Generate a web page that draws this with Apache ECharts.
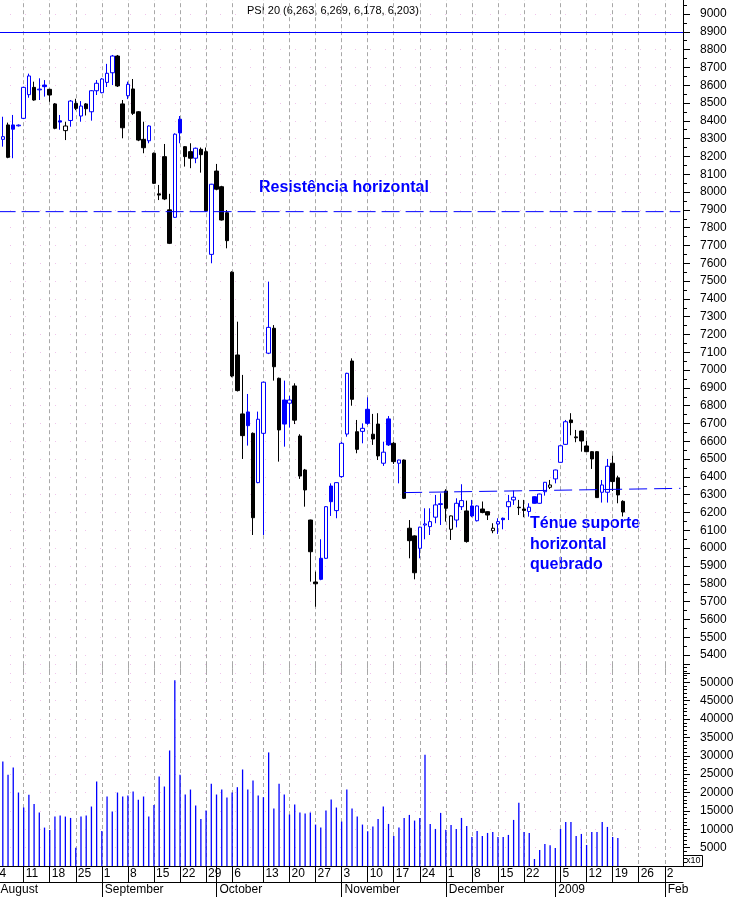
<!DOCTYPE html>
<html><head><meta charset="utf-8">
<script src="https://cdn.jsdelivr.net/npm/echarts@6.0.0/dist/echarts.min.js"></script>
<style>html,body{margin:0;padding:0;background:#fff}#c{width:733px;height:897px}</style>
</head><body><div id="c"></div>
<script>
// ---------- DATA ----------
const dates = [
'2008-08-04','2008-08-05','2008-08-06','2008-08-07','2008-08-08','2008-08-11','2008-08-12','2008-08-13','2008-08-14','2008-08-15',
'2008-08-18','2008-08-19','2008-08-20','2008-08-21','2008-08-22','2008-08-25','2008-08-26','2008-08-27','2008-08-28','2008-08-29',
'2008-09-01','2008-09-02','2008-09-03','2008-09-04','2008-09-05','2008-09-08','2008-09-09','2008-09-10','2008-09-11','2008-09-12',
'2008-09-15','2008-09-16','2008-09-17','2008-09-18','2008-09-19','2008-09-22','2008-09-23','2008-09-24','2008-09-25','2008-09-26',
'2008-09-29','2008-09-30','2008-10-01','2008-10-02','2008-10-03','2008-10-06','2008-10-07','2008-10-08','2008-10-09','2008-10-10',
'2008-10-11','2008-10-13','2008-10-14','2008-10-15','2008-10-16','2008-10-17','2008-10-20','2008-10-21','2008-10-22','2008-10-23',
'2008-10-24','2008-10-27','2008-10-28','2008-10-29','2008-10-30','2008-10-31','2008-11-03','2008-11-04','2008-11-05','2008-11-06',
'2008-11-07','2008-11-10','2008-11-11','2008-11-12','2008-11-13','2008-11-14','2008-11-17','2008-11-18','2008-11-19','2008-11-20',
'2008-11-21','2008-11-24','2008-11-25','2008-11-26','2008-11-27','2008-11-28','2008-12-01','2008-12-02','2008-12-03','2008-12-04',
'2008-12-05','2008-12-08','2008-12-09','2008-12-10','2008-12-11','2008-12-12','2008-12-15','2008-12-16','2008-12-17','2008-12-18',
'2008-12-19','2008-12-22','2008-12-23','2008-12-24','2008-12-29','2008-12-30','2008-12-31','2009-01-02','2009-01-05','2009-01-06',
'2009-01-07','2009-01-08','2009-01-09','2009-01-12','2009-01-13','2009-01-14','2009-01-15','2009-01-16','2009-01-19','2009-01-20',
'2009-01-21','2009-01-22','2009-01-23','2009-01-26','2009-01-27','2009-01-28','2009-01-29','2009-01-30','2009-02-02','2009-02-03',
'2009-02-04','2009-02-05'];

const open = [null,8296,8377,8377,8372,8414,8547,8588,8574,8601,
8577,8495,8400,8345,8402,8498,8427,8495,8451,8569,
8558,8616,8670,8764,8495,8541,8579,8451,8296,8288,
8218,7990,8199,7900,7858,8409,8255,8227,8190,8240,
8227,7650,8118,8030,7884,7550,7085,6754,6765,6645,
6368,6645,7095,7235,6954,6832,6814,6911,6630,6439,
6158,5810,5943,5943,6349,6211,6402,6641,7051,6654,
6656,6780,6640,6697,6477,6726,6589,6477,6495,6112,
6069,5999,6130,6121,6174,6245,6321,6106,6158,6233,
6209,6237,6154,6220,6205,6098,6136,6168,6233,6271,
6230,6220,6206,6289,6252,6317,6342,6389,6482,6583,
6720,6625,6658,6574,6542,6542,6314,6314,6477,6395,6263];

const high = [null,8423,8390,8433,8380,8592,8665,8620,8639,8629,
8580,8500,8433,8395,8517,8524,8511,8500,8572,8629,
8640,8720,8770,8770,8517,8620,8635,8455,8395,8375,
8222,8040,8270,7990,8330,8427,8258,8274,8250,8250,
8250,8046,8158,8035,7899,7555,7272,6973,6866,6650,
6767,6935,7497,7253,6958,6941,6855,6926,6640,6445,
6160,5868,6050,6236,6364,6370,6598,6985,7066,6720,
6701,6847,6754,6758,6598,6742,6598,6497,6498,6158,
6072,6120,6224,6224,6299,6308,6331,6183,6280,6359,
6267,6271,6240,6262,6207,6140,6168,6172,6299,6323,
6271,6271,6252,6291,6306,6372,6383,6441,6577,6720,
6758,6664,6660,6602,6545,6545,6383,6501,6520,6407,6269];

const low = [null,8255,8190,8190,8368,8410,8530,8513,8517,8536,
8507,8353,8350,8292,8367,8460,8395,8430,8401,8545,
8555,8590,8601,8590,8302,8522,8433,8286,8218,8274,
8045,7955,7955,7708,7855,8274,8143,8134,8162,8109,
7890,7600,8010,7840,7684,6960,6880,6501,6576,6074,
6365,6074,7090,6941,6486,6570,6677,6697,6389,6233,
5812,5671,5820,5940,6181,6168,6395,6626,6800,6533,
6589,6692,6580,6495,6462,6574,6473,6364,6276,5943,
5825,5943,6050,6074,6140,6130,6149,6046,6117,6214,
6031,6174,6150,6196,6158,6084,6080,6106,6158,6243,
6186,6174,6177,6250,6250,6295,6332,6364,6480,6580,
6634,6595,6542,6540,6445,6282,6256,6256,6321,6252,6178];

const close = [null,8311,8195,8353,8376,8588,8652,8517,8578,8592,
8545,8358,8393,8371,8511,8470,8483,8468,8569,8611,
8635,8667,8764,8596,8361,8605,8442,8292,8249,8371,
8049,7983,7961,7712,8325,8332,8199,8190,8246,8210,
7895,8044,8016,7843,7727,6967,6885,6632,6688,6171,
6724,6932,7240,7019,6664,6697,6832,6719,6405,6327,
5980,5800,5825,6233,6261,6368,6589,6982,6836,6555,
6673,6701,6613,6518,6539,6580,6486,6495,6280,6042,
5862,6118,6136,6149,6243,6250,6224,6181,6252,6267,
6037,6181,6237,6200,6186,6112,6149,6160,6261,6286,
6227,6212,6230,6252,6304,6370,6355,6439,6575,6710,
6705,6620,6602,6542,6501,6284,6355,6460,6374,6299,6203];

const volume = [null,28460,24830,26830,20010,15920,19370,16910,14550,10460,
9820,13460,13730,13460,13090,5000,13460,13730,16190,23010,
9550,18920,14820,20010,18920,19190,20280,18010,18920,13460,
16640,24370,21640,31460,50560,24830,19460,20820,16460,12820,
15100,22370,19460,20820,18640,20010,21460,26280,20820,23280,
19190,18730,30920,15640,22370,19460,14010,16730,14550,14280,
14550,11280,10460,15100,18100,15920,12100,20820,15640,13460,
11280,9460,10730,12820,16190,11460,8180,10460,13090,13910,
12370,13090,30280,11460,10090,14460,9820,11190,10090,13090,
10910,7910,9550,8180,9000,9280,7910,7910,8460,12550,
17190,9280,9000,1910,4360,6000,5640,4910,10090,12000,
12000,8180,8730,5730,9280,9280,12000,10640,7910,7640];

const weekTicks = ['2008-08-04','2008-08-11','2008-08-18','2008-08-25','2008-09-01','2008-09-08','2008-09-15',
'2008-09-22','2008-09-29','2008-10-06','2008-10-13','2008-10-20','2008-10-27','2008-11-03','2008-11-10',
'2008-11-17','2008-11-24','2008-12-01','2008-12-08','2008-12-15','2008-12-22','2009-01-05','2009-01-12',
'2009-01-19','2009-01-26','2009-02-02'];
const monthStarts = ['2008-08-04','2008-09-01','2008-10-01','2008-11-03','2008-12-01','2009-01-02','2009-02-02'];
const monthNames = ['August','September','October','November','December','2009','Feb'];

const resistanceTop = 8900;
const resistanceLevel = 7890;
const supportStart = ['2008-11-19', 6312];
const supportEnd = ['2009-02-05', 6336];

// ---------- CHART ----------
const BLUE = '#0000ff', BLACK = '#000000';
const FONT = '"Liberation Sans", Arial, sans-serif';
const weekSet = new Set(weekTicks.map(d => dates.indexOf(d)));
const monthMap = {};
monthStarts.forEach((d, k) => { monthMap[dates.indexOf(d)] = monthNames[k]; });
const isWeek = i => weekSet.has(i);
const isMonth = i => monthMap[i] !== undefined;

const candleData = close.map((c, i) => {
  if (c == null) return '-';
  const prev = (i > 0 && close[i-1] != null) ? close[i-1] : open[i];
  const col = c >= prev ? BLUE : BLACK;
  const fill = c > open[i] ? '#ffffff' : col;
  return { value: [open[i], c, low[i], high[i]],
    itemStyle: { color: fill, color0: fill, borderColor: col, borderColor0: col, borderWidth: 1 } };
});
const last = close.length - 1;
const fmt = v => String(v).replace(/(\d)(\d{3})$/, '$1,$2');
const header = 'PSI 20 (' + [open[last], high[last], low[last], close[last]].map(fmt).join(', ') + ')';

const weekSplit = { show: true, interval: (i) => isWeek(i), alignWithLabel: true,
  lineStyle: { color: '#a8a8a8', type: [4, 3], width: 1 } };
const dotSplit = { show: true, lineStyle: { color: '#f0c4ec', type: [1, 14], width: 1 } };

const first = dates[0], end = dates[dates.length - 1];
function segLine(p0, p1, dash) {
  return { type: 'line', xAxisIndex: 0, yAxisIndex: 0, silent: true, symbol: 'none',
    data: [p0, p1], z: 3,
    itemStyle: { color: BLUE }, lineStyle: { color: BLUE, width: 1, type: dash } };
}

const chart = echarts.init(document.getElementById('c'), null, { renderer: 'canvas' });
chart.setOption({
  animation: false,
  backgroundColor: '#ffffff',
  textStyle: { fontFamily: FONT },
  grid: [
    { left: -5, right: 50, top: -3.8, bottom: 224.2, containLabel: false, outerBoundsMode: 'none' },
    { left: -5, right: 50, top: 664, bottom: 31, containLabel: false, outerBoundsMode: 'none' }
  ],
  xAxis: [
    { type: 'category', gridIndex: 0, data: dates, boundaryGap: true,
      axisLine: { show: false, onZero: false }, axisTick: { show: false }, axisLabel: { show: false },
      splitLine: weekSplit },
    { type: 'category', gridIndex: 1, data: dates, boundaryGap: true, position: 'bottom',
      axisLine: { show: true, onZero: false, lineStyle: { color: BLACK, width: 1 } },
      axisTick: { show: true, alignWithLabel: true, interval: (i) => isWeek(i) || isMonth(i), length: 16,
        lineStyle: { color: BLACK, width: 1 } },
      axisLabel: { show: true, interval: (i) => isWeek(i), formatter: (v) => String(+v.slice(8)),
        align: 'left', padding: [0, 0, 0, 2], margin: 2, fontSize: 12, lineHeight: 12, color: BLACK,
        fontFamily: FONT, hideOverlap: false },
      splitLine: weekSplit },
    { type: 'category', gridIndex: 1, data: dates, boundaryGap: true, position: 'bottom', offset: 16,
      axisLine: { show: true, onZero: false, lineStyle: { color: BLACK, width: 1 } },
      axisTick: { show: true, alignWithLabel: true, interval: (i) => isMonth(i), length: 15,
        lineStyle: { color: BLACK, width: 1 } },
      axisLabel: { show: true, interval: (i) => isMonth(i), formatter: (v, i) => monthMap[i] || '',
        align: 'left', padding: [0, 0, 0, 3], margin: 2, fontSize: 12, lineHeight: 12, color: BLACK,
        fontFamily: FONT, hideOverlap: false },
      splitLine: { show: false } }
  ],
  yAxis: [
    { type: 'value', gridIndex: 0, position: 'right', min: 5300, max: 9100, interval: 100,
      axisLine: { show: true, lineStyle: { color: BLACK, width: 1 } },
      axisTick: { show: true, inside: false, length: 7, lineStyle: { color: BLACK } },
      minorTick: { show: true, splitNumber: 2, length: 4, lineStyle: { color: BLACK } },
      axisLabel: { margin: 17, fontSize: 12, color: BLACK, fontFamily: FONT,
        formatter: (v) => (v >= 5400 && v <= 9000) ? String(v) : '' },
      splitLine: dotSplit },
    { type: 'value', gridIndex: 1, position: 'right', min: 0, max: 55000, interval: 5000,
      axisLine: { show: true, lineStyle: { color: BLACK, width: 1 } },
      axisTick: { show: true, inside: false, length: 7, lineStyle: { color: BLACK } },
      minorTick: { show: true, splitNumber: 5, length: 4, lineStyle: { color: BLACK } },
      axisLabel: { margin: 17, fontSize: 12, color: BLACK, fontFamily: FONT,
        formatter: (v) => (v > 0 && v <= 50000) ? String(v) : '' },
      splitLine: dotSplit }
  ],
  series: [
    { type: 'line', xAxisIndex: 0, yAxisIndex: 0, data: [], silent: true,
      itemStyle: { color: BLUE }, lineStyle: { color: BLUE },
      markLine: { silent: true, symbol: ['none', 'none'], label: { show: false }, animation: false,
        lineStyle: { color: BLUE, width: 1, type: 'solid' }, data: [{ yAxis: resistanceTop }] } },
    segLine([first, resistanceLevel], [end, resistanceLevel], [18, 6]),
    segLine(supportStart, supportEnd, [18, 7]),
    { type: 'candlestick', xAxisIndex: 0, yAxisIndex: 0, data: candleData, barWidth: 4, z: 2 },
    { type: 'bar', xAxisIndex: 1, yAxisIndex: 1, data: volume, barWidth: 1.3,
      itemStyle: { color: BLUE } }
  ],
  graphic: [
    { type: 'text', left: 247, top: 5, style: { text: header, font: '11px ' + FONT, fill: BLACK } },
    { type: 'text', left: 259, top: 180, style: { text: 'Resistência horizontal', font: 'bold 16px ' + FONT, fill: BLUE } },
    { type: 'text', left: 530, top: 516, style: { text: 'Ténue suporte', font: 'bold 16px ' + FONT, fill: BLUE } },
    { type: 'text', left: 530, top: 537, style: { text: 'horizontal', font: 'bold 16px ' + FONT, fill: BLUE } },
    { type: 'text', left: 530, top: 557, style: { text: 'quebrado', font: 'bold 16px ' + FONT, fill: BLUE } },
    { type: 'rect', shape: { x: 683.5, y: 855.5, width: 19, height: 11 }, style: { fill: 'none', stroke: BLACK, lineWidth: 1 } },
    { type: 'text', left: 686, top: 856, style: { text: 'x10', font: '9px ' + FONT, fill: BLACK } }
  ]
});
</script>
</body></html>
